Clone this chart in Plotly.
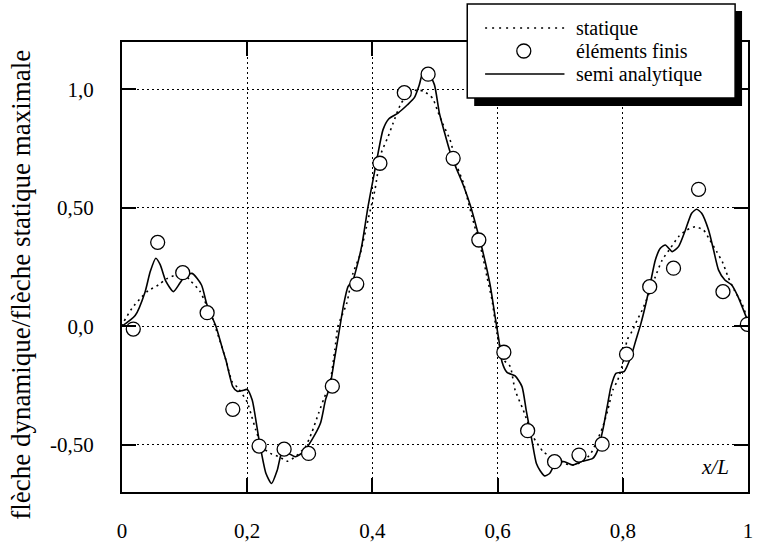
import plotly.graph_objects as go

# ---- data ----
x_semi = [0.000, 0.021, 0.037, 0.045, 0.054, 0.061, 0.070, 0.082, 0.092, 0.100, 0.112, 0.127,
          0.135, 0.142, 0.150, 0.161, 0.166, 0.177, 0.184, 0.192, 0.200, 0.208, 0.219, 0.230,
          0.239, 0.248, 0.256, 0.266, 0.277, 0.290, 0.303, 0.317, 0.325, 0.332, 0.340, 0.347,
          0.354, 0.361, 0.369, 0.377, 0.383, 0.393, 0.401, 0.409, 0.417, 0.426, 0.441, 0.456,
          0.467, 0.475, 0.480, 0.488, 0.499, 0.507, 0.515, 0.523, 0.532, 0.546, 0.557, 0.567,
          0.575, 0.588, 0.596, 0.602, 0.607, 0.615, 0.628, 0.639, 0.646, 0.654, 0.662, 0.668,
          0.675, 0.683, 0.694, 0.707, 0.720, 0.733, 0.752, 0.760, 0.768, 0.776, 0.781, 0.789,
          0.802, 0.813, 0.821, 0.829, 0.837, 0.844, 0.852, 0.860, 0.868, 0.879, 0.889, 0.900,
          0.910, 0.918, 0.926, 0.937, 0.945, 0.953, 0.963, 0.974, 0.984, 0.997, 1.000]
y_semi = [0.00, 0.045, 0.146, 0.23, 0.287, 0.26, 0.19, 0.146, 0.18, 0.209, 0.223, 0.174,
          0.097, 0.05, 0.0, -0.10, -0.143, -0.255, -0.275, -0.272, -0.267, -0.312, -0.481, -0.622,
          -0.664, -0.608, -0.530, -0.537, -0.551, -0.530, -0.481, -0.410, -0.312, -0.255, -0.13, -0.02,
          0.09, 0.167, 0.195, 0.27, 0.34, 0.505, 0.618, 0.73, 0.83, 0.875, 0.90, 0.935,
          0.965, 1.02, 1.065, 1.075, 1.02, 0.90, 0.82, 0.745, 0.68, 0.59, 0.505, 0.41,
          0.33, 0.175, 0.04, -0.058, -0.15, -0.195, -0.21, -0.255, -0.36, -0.47, -0.58, -0.61,
          -0.632, -0.622, -0.572, -0.572, -0.586, -0.572, -0.558, -0.523, -0.439, -0.326, -0.256, -0.199,
          -0.192, -0.129, -0.058, 0.012, 0.097, 0.181, 0.280, 0.329, 0.343, 0.315, 0.336, 0.406,
          0.477, 0.494, 0.477, 0.406, 0.322, 0.237, 0.195, 0.174, 0.125, 0.040, 0.02]

x_stat = [0.000, 0.003, 0.016, 0.032, 0.042, 0.058, 0.071, 0.086, 0.098, 0.110, 0.124, 0.135,
          0.140, 0.148, 0.156, 0.166, 0.176, 0.185, 0.200, 0.206, 0.214, 0.224, 0.237, 0.251,
          0.264, 0.277, 0.293, 0.303, 0.314, 0.325, 0.330, 0.340, 0.345, 0.359, 0.369, 0.380,
          0.393, 0.404, 0.414, 0.425, 0.433, 0.446, 0.459, 0.472, 0.483, 0.496, 0.504, 0.512,
          0.524, 0.536, 0.546, 0.551, 0.562, 0.575, 0.583, 0.591, 0.599, 0.610, 0.620, 0.628,
          0.641, 0.657, 0.673, 0.689, 0.705, 0.720, 0.736, 0.749, 0.757, 0.768, 0.776, 0.784,
          0.792, 0.800, 0.807, 0.815, 0.823, 0.831, 0.842, 0.852, 0.863, 0.876, 0.889, 0.902,
          0.916, 0.929, 0.939, 0.950, 0.960, 0.968, 0.978, 0.990, 0.998]
y_stat = [0.0, 0.019, 0.076, 0.125, 0.15, 0.174, 0.20, 0.216, 0.223, 0.19, 0.15, 0.09,
          0.068, 0.005, -0.058, -0.143, -0.235, -0.26, -0.32, -0.37, -0.44, -0.509, -0.537, -0.551,
          -0.57, -0.551, -0.509, -0.45, -0.368, -0.29, -0.27, -0.10, 0.0, 0.097, 0.223, 0.30,
          0.449, 0.575, 0.73, 0.80, 0.857, 0.942, 0.984, 0.998, 0.99, 0.963, 0.91, 0.857,
          0.787, 0.67, 0.60, 0.547, 0.435, 0.31, 0.209, 0.111, -0.030, -0.143, -0.17, -0.27,
          -0.354, -0.467, -0.53, -0.558, -0.579, -0.586, -0.572, -0.537, -0.495, -0.425, -0.354, -0.270,
          -0.227, -0.157, -0.058, -0.02, 0.026, 0.068, 0.139, 0.209, 0.280, 0.329, 0.378, 0.406,
          0.420, 0.406, 0.364, 0.315, 0.266, 0.209, 0.153, 0.097, 0.04]

x_ef = [0.018, 0.057, 0.097, 0.136, 0.177, 0.219, 0.259, 0.298, 0.336, 0.375, 0.412, 0.451, 0.489,
        0.529, 0.570, 0.610, 0.648, 0.691, 0.730, 0.767, 0.806, 0.843, 0.881, 0.921, 0.960, 0.999]
y_ef = [-0.012, 0.354, 0.226, 0.057, -0.351, -0.506, -0.519, -0.537, -0.253, 0.178, 0.688, 0.986, 1.064,
        0.709, 0.364, -0.110, -0.441, -0.572, -0.544, -0.498, -0.118, 0.167, 0.245, 0.578, 0.146, 0.008]

x_ticks = [0, 0.2, 0.4, 0.6, 0.8, 1.0]
x_ticktext = ["0", "0,2", "0,4", "0,6", "0,8", "1"]
y_ticks = [-0.5, 0.0, 0.5, 1.0]
y_ticktext = ["-0,50", "0,0", "0,50", "1,0"]

legend_labels = ["statique", "éléments finis", "semi analytique"]

SERIF = "Liberation Serif, Times New Roman, serif"

fig = go.Figure()
fig.add_trace(go.Scatter(x=x_stat, y=y_stat, mode="lines", name=legend_labels[0], showlegend=False,
                         line=dict(color="black", width=1.6, dash="2px,4px", shape="spline", smoothing=0.6)))
fig.add_trace(go.Scatter(x=x_semi, y=y_semi, mode="lines", name=legend_labels[2], showlegend=False,
                         line=dict(color="black", width=1.6, shape="spline", smoothing=0.6)))
fig.add_trace(go.Scatter(x=x_ef, y=y_ef, mode="markers", name=legend_labels[1], showlegend=False,
                         marker=dict(symbol="circle", size=14, color="white",
                                     line=dict(color="black", width=1.3))))

axis_common = dict(showline=True, linecolor="black", linewidth=2, mirror="ticks",
                   ticks="inside", ticklen=14, tickwidth=2, tickcolor="black",
                   showgrid=True, gridcolor="black", gridwidth=1, griddash="2px,3px",
                   zeroline=False, tickfont=dict(family=SERIF, size=21, color="black"))

fig.update_xaxes(range=[0, 1], tickvals=x_ticks, ticktext=x_ticktext, ticklabelstandoff=19, **axis_common)
fig.update_yaxes(range=[-0.7, 1.2], tickvals=y_ticks, ticktext=y_ticktext, ticklabelstandoff=22, **axis_common)

# ---- manual legend box with shadow (pixel -> paper conversion) ----
L, R, T, B = 122, 753, 42, 492
W, H = R - L, B - T
def px(xp):
    return (xp - L) / W
def py(yp):
    return (B - yp) / H

shapes = []
# shadow
shapes.append(dict(type="rect", xref="paper", yref="paper", layer="above",
                   x0=px(477), x1=px(747), y0=py(11), y1=py(106),
                   fillcolor="black", line=dict(width=0)))
# box
shapes.append(dict(type="rect", xref="paper", yref="paper", layer="above",
                   x0=px(470), x1=px(740), y0=py(4), y1=py(98),
                   fillcolor="white", line=dict(color="black", width=1.5)))
# statique sample
shapes.append(dict(type="line", xref="paper", yref="paper", layer="above",
                   x0=px(488), x1=px(568), y0=py(28), y1=py(28),
                   line=dict(color="black", width=1.3, dash="2px,5px")))
# semi analytique sample
shapes.append(dict(type="line", xref="paper", yref="paper", layer="above",
                   x0=px(488), x1=px(568), y0=py(74), y1=py(74),
                   line=dict(color="black", width=1.3)))
# elements finis sample
shapes.append(dict(type="circle", xref="paper", yref="paper", layer="above",
                   xsizemode="pixel", ysizemode="pixel",
                   xanchor=px(527), yanchor=py(51), x0=-7, x1=7, y0=-7, y1=7,
                   fillcolor="white", line=dict(color="black", width=1.3)))
fig.update_layout(shapes=shapes)

annotations = []
for lab, yy in zip(legend_labels, [28, 51, 74]):
    annotations.append(dict(xref="paper", yref="paper", x=px(578), y=py(yy), text=lab,
                            showarrow=False, xanchor="left", yanchor="middle",
                            font=dict(family=SERIF, size=20, color="black")))
annotations.append(dict(xref="paper", yref="paper", x=px(720), y=py(467), text="<i>x/L</i>",
                        showarrow=False, xanchor="center", yanchor="middle",
                        font=dict(family=SERIF, size=21, color="black")))
annotations.append(dict(xref="paper", yref="paper", x=px(20), y=py(285),
                        text="flèche dynamique/flèche statique maximale", textangle=-90,
                        showarrow=False, xanchor="center", yanchor="middle",
                        font=dict(family=SERIF, size=27, color="black")))
fig.update_layout(annotations=annotations)

fig.update_layout(width=759, height=549, margin=dict(l=L, r=759 - R, t=T, b=549 - B),
                  paper_bgcolor="white", plot_bgcolor="white", showlegend=False)

fig.write_html("out.html", config={"displayModeBar": False},
               post_script="document.body.style.margin='0';document.body.style.overflow='hidden';")
